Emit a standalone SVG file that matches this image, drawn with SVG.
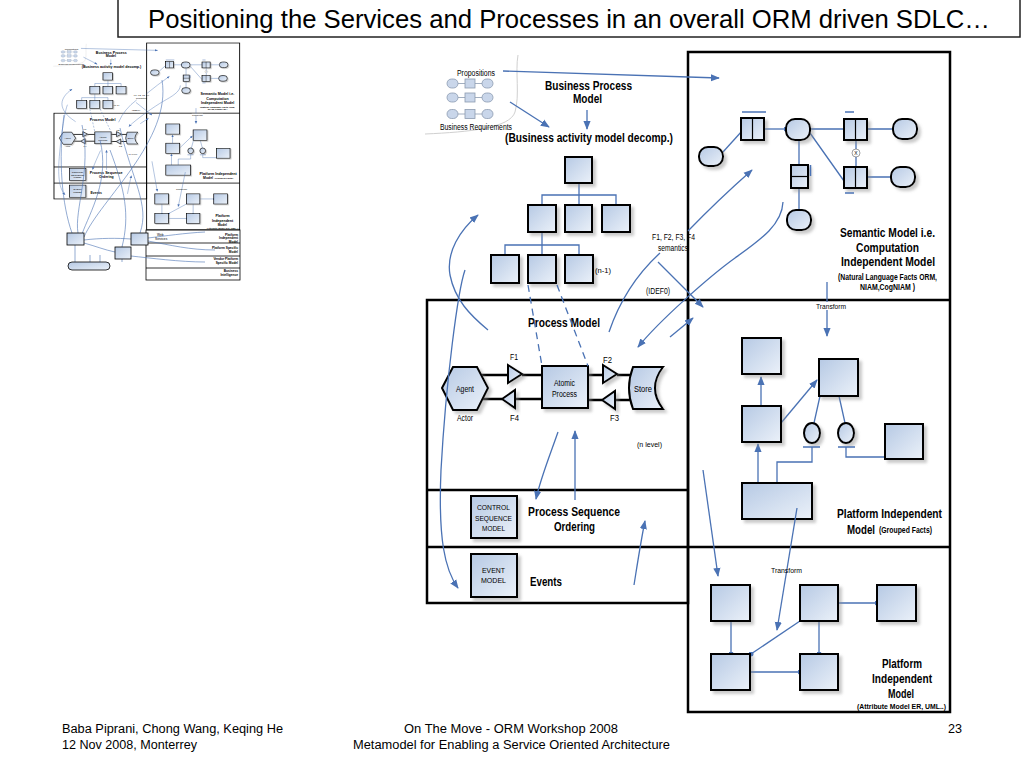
<svg xmlns="http://www.w3.org/2000/svg" xmlns:xlink="http://www.w3.org/1999/xlink" width="1024" height="768" viewBox="0 0 1024 768">
<defs>
<linearGradient id="g" x1="0" y1="0" x2="1" y2="1">
<stop offset="0" stop-color="#b6c9e4"/>
<stop offset="1" stop-color="#ebf1f9"/>
</linearGradient>
<filter id="sh" x="-30%" y="-30%" width="170%" height="170%">
<feDropShadow dx="3" dy="3" stdDeviation="1.5" flood-color="#8a8a8a" flood-opacity="0.45"/>
</filter>
<marker id="ah" viewBox="0 0 10 10" refX="9" refY="5" markerWidth="9" markerHeight="9" markerUnits="userSpaceOnUse" orient="auto">
<path d="M0,1 L10,5 L0,9 Z" fill="#4a72b4"/>
</marker>
<marker id="dot" viewBox="0 0 6 6" refX="3" refY="3" markerWidth="5" markerHeight="5" markerUnits="userSpaceOnUse">
<circle cx="3" cy="3" r="3" fill="#4a72b4"/>
</marker>
<style>
.t{font-family:"Liberation Sans Narrow","Liberation Sans",Arial,sans-serif;fill:#000}
.b{font-weight:bold}
.n{fill:url(#g);stroke:#000;stroke-width:2;filter:url(#sh)}
.p{fill:#c9d6ea;stroke:#8c9bb0;stroke-width:0.8}
.c{fill:none;stroke:#4a72b4;stroke-width:1.3}
.a{marker-end:url(#ah)}
.d{marker-end:url(#dot)}
.k{fill:none;stroke:#000;stroke-width:2.5}
.f{fill:none;stroke:#000;stroke-width:2.5}
.bar{stroke:#4a72b4;stroke-width:1.5}
.tf{fill:none;stroke:#000;stroke-width:0.8}
.tc{fill:none;stroke:#4a72b4;stroke-width:0.6}
.tn{fill:url(#g);stroke:#000;stroke-width:0.8}
</style>
</defs>
<rect width="1024" height="768" fill="#fff"/>

<g id="title">
<rect x="118" y="-1" width="902" height="38" fill="#fff" stroke="#222" stroke-width="1.5"/>
<text class="t" x="148" y="28" font-size="25" textLength="842" lengthAdjust="spacingAndGlyphs">Positioning the Services and Processes in an overall ORM driven SDLC…</text>
</g>

<g id="main">
<g id="frames">
<rect class="f" x="427" y="300" width="261" height="303"/>
<line class="f" x1="427" y1="490" x2="688" y2="490"/>
<line class="f" x1="427" y1="547" x2="688" y2="547"/>
<rect class="f" x="688" y="52" width="262" height="660"/>
<line class="f" x1="688" y1="300" x2="950" y2="300"/>
<line class="f" x1="688" y1="547" x2="950" y2="547"/>
</g>

<g id="propositions">
<path d="M425,134 C470,132 510,128 515,112 C520,95 515,72 518,55" fill="none" stroke="#d0d0d0" stroke-width="1"/>
<g stroke="#8c9bb0" stroke-width="0.8">
<line x1="458" y1="83.5" x2="482" y2="83.5"/>
<line x1="458" y1="97.5" x2="482" y2="97.5"/>
<line x1="458" y1="114" x2="482" y2="114"/>
</g>
<rect class="p" x="447" y="79" width="11" height="9" rx="4.5"/>
<rect class="p" x="465" y="79" width="10" height="9"/>
<rect class="p" x="482" y="79" width="11" height="9" rx="4.5"/>
<rect class="p" x="447" y="93" width="11" height="9" rx="4.5"/>
<rect class="p" x="465" y="93" width="10" height="9"/>
<rect class="p" x="482" y="93" width="11" height="9" rx="4.5"/>
<rect class="p" x="447" y="109.5" width="11" height="9" rx="4.5"/>
<rect class="p" x="465" y="109.5" width="10" height="9"/>
<rect class="p" x="482" y="109.5" width="11" height="9" rx="4.5"/>
<text class="t" x="457" y="76" font-size="8.5" textLength="38" lengthAdjust="spacingAndGlyphs">Propositions</text>
<text class="t" x="440" y="129.5" font-size="8.5" textLength="72" lengthAdjust="spacingAndGlyphs">Business Requirements</text>
</g>

<g id="bpm-labels">
<text class="t b" x="545" y="90" font-size="12.5" textLength="87" lengthAdjust="spacingAndGlyphs">Business Process</text>
<text class="t b" x="573" y="103" font-size="12.5" textLength="29" lengthAdjust="spacingAndGlyphs">Model</text>
<text class="t b" x="505" y="141.5" font-size="13" textLength="168" lengthAdjust="spacingAndGlyphs">(Business activity model decomp.)</text>
</g>

<g id="tree">
<g id="tree-links" class="c">
<path d="M579,183 V205 M542,205 V195 H616 V205 M542,232 V255 M505,255 V245 H579 V255"/>
</g>
<rect id="t0" class="n" x="565" y="157" width="27" height="26"/>
<rect id="t1" class="n" x="528" y="205" width="28" height="27"/>
<rect id="t2" class="n" x="565" y="205" width="27" height="27"/>
<rect id="t3" class="n" x="602" y="205" width="28" height="27"/>
<rect id="t4" class="n" x="491" y="255" width="28" height="28"/>
<rect id="t5" class="n" x="528" y="255" width="28" height="28"/>
<rect id="t6" class="n" x="565" y="255" width="28" height="28"/>
<text class="t" x="595" y="273" font-size="8" textLength="16" lengthAdjust="spacingAndGlyphs">(n-1)</text>
</g>

<g id="semantic">
<g id="sem-links" class="c">
<path d="M723,152 L742,131"/>
<path class="d" d="M764,129 L786,129"/>
<path d="M810,129 L844,129 M867,129 L893,129 M799,140 L799,165 M799,188 L799,210 M810,133 L844,181 M856,140 L856,167 M867,177 L891,177"/>
</g>
<rect id="e1" class="n" x="699" y="147" width="24" height="19" rx="9"/>
<g id="f1"><rect class="n" x="741" y="118" width="23" height="22"/><line x1="752.5" y1="118" x2="752.5" y2="140" stroke="#000" stroke-width="1.2"/><line class="bar" x1="742" y1="112" x2="766" y2="112"/></g>
<rect id="e2" class="n" x="786" y="119" width="24" height="21" rx="9"/>
<g id="f3"><rect class="n" x="844" y="119" width="23" height="21"/><line x1="855.5" y1="119" x2="855.5" y2="140" stroke="#000" stroke-width="1.2"/><line class="bar" x1="845" y1="112" x2="854" y2="112"/></g>
<rect id="e3" class="n" x="893" y="119" width="24" height="20" rx="9"/>
<g id="f4"><rect class="n" x="791" y="165" width="17" height="23"/><line x1="791" y1="176.5" x2="808" y2="176.5" stroke="#000" stroke-width="1.2"/><line class="bar" x1="810.5" y1="165" x2="810.5" y2="176"/></g>
<rect id="e4" class="n" x="787" y="210" width="24" height="20" rx="9"/>
<g id="f5"><rect class="n" x="844" y="167" width="23" height="21"/><line x1="855.5" y1="167" x2="855.5" y2="188" stroke="#000" stroke-width="1.2"/><line class="bar" x1="845" y1="193" x2="854" y2="193"/></g>
<rect id="e5" class="n" x="891" y="167" width="24" height="20" rx="9"/>
<g id="xcon"><circle cx="856" cy="153" r="4" fill="#fff" stroke="#777" stroke-width="0.7"/><text class="t" x="856" y="155" font-size="5" text-anchor="middle">X</text></g>
<g id="sem-label">
<text class="t b" x="840" y="237" font-size="12.5" textLength="95" lengthAdjust="spacingAndGlyphs">Semantic Model i.e.</text>
<text class="t b" x="856" y="252" font-size="12.5" textLength="63" lengthAdjust="spacingAndGlyphs">Computation</text>
<text class="t b" x="841" y="266" font-size="12.5" textLength="94" lengthAdjust="spacingAndGlyphs">Independent Model</text>
<text class="t b" x="838" y="280" font-size="8.5" textLength="99" lengthAdjust="spacingAndGlyphs">(Natural Language Facts ORM,</text>
<text class="t b" x="860" y="289.5" font-size="8.5" textLength="55" lengthAdjust="spacingAndGlyphs">NIAM,CogNIAM )</text>
</g>
</g>

<g id="process">
<g id="proc-lines" class="k">
<path d="M480,375 H508 M522,375 H542 M542,399 H515 M502,399 H483 M588,375 H603 M617,375 H633 M633,400 H615 M602,400 H588"/>
</g>
<polygon id="agent" class="n" points="442,388 453,367 477,367 488,388 477,410 453,410"/>
<polygon id="tF1" class="n" points="508,365 522,374 508,383"/>
<polygon id="tF4" class="n" points="502,399 515,390 515,408"/>
<rect id="atomic" class="n" x="542" y="366" width="46" height="42"/>
<polygon id="tF2" class="n" points="603,365 617,374 603,383"/>
<polygon id="tF3" class="n" points="602,400 615,391 615,409"/>
<path id="store" class="n" d="M633,367 H663 Q647,388 663,409 H633 Q625,388 633,367 Z"/>
<text class="t b" x="528" y="327" font-size="13" textLength="72" lengthAdjust="spacingAndGlyphs">Process Model</text>
<text class="t" x="456" y="392" font-size="8.5" textLength="18" lengthAdjust="spacingAndGlyphs">Agent</text>
<text class="t" x="457" y="421" font-size="8.5" textLength="16" lengthAdjust="spacingAndGlyphs">Actor</text>
<text class="t" x="510" y="360" font-size="8.5" textLength="8" lengthAdjust="spacingAndGlyphs">F1</text>
<text class="t" x="510" y="420.5" font-size="8.5" textLength="9" lengthAdjust="spacingAndGlyphs">F4</text>
<text class="t" x="603" y="363" font-size="8.5" textLength="9" lengthAdjust="spacingAndGlyphs">F2</text>
<text class="t" x="610" y="421" font-size="8.5" textLength="9" lengthAdjust="spacingAndGlyphs">F3</text>
<text class="t" x="554" y="386" font-size="8.5" textLength="21" lengthAdjust="spacingAndGlyphs">Atomic</text>
<text class="t" x="552" y="396.5" font-size="8.5" textLength="25" lengthAdjust="spacingAndGlyphs">Process</text>
<text class="t" x="634" y="392" font-size="8.5" textLength="18" lengthAdjust="spacingAndGlyphs">Store</text>
<text class="t" x="637" y="447" font-size="8" textLength="25" lengthAdjust="spacingAndGlyphs">(n level)</text>
</g>

<g id="control">
<rect class="n" x="471" y="496" width="46" height="42"/>
<text class="t" x="477" y="510" font-size="7.5" textLength="33" lengthAdjust="spacingAndGlyphs">CONTROL</text>
<text class="t" x="475" y="520.5" font-size="7.5" textLength="37" lengthAdjust="spacingAndGlyphs">SEQUENCE</text>
<text class="t" x="482" y="530.5" font-size="7.5" textLength="23" lengthAdjust="spacingAndGlyphs">MODEL</text>
<text class="t b" x="528" y="516" font-size="12.5" textLength="92" lengthAdjust="spacingAndGlyphs">Process Sequence</text>
<text class="t b" x="554" y="530.5" font-size="12.5" textLength="41" lengthAdjust="spacingAndGlyphs">Ordering</text>
</g>

<g id="event">
<rect class="n" x="471" y="554" width="46" height="43"/>
<text class="t" x="482" y="573" font-size="7.5" textLength="23" lengthAdjust="spacingAndGlyphs">EVENT</text>
<text class="t" x="481" y="583" font-size="7.5" textLength="25" lengthAdjust="spacingAndGlyphs">MODEL</text>
<text class="t b" x="530" y="586" font-size="12.5" textLength="32" lengthAdjust="spacingAndGlyphs">Events</text>
</g>

<g id="pim1">
<g id="pim1-links" class="c">
<path class="a" d="M761,406 L761,377"/>
<path class="a" d="M781,423 L817,380"/>
<path class="a" d="M758,483 L758,444"/>
<path d="M820,396 L814,423 M839,396 L845,423 M812,447 V462 H777 V483 M846,447 V457 H885"/>
</g>
<rect id="pA" class="n" x="742" y="338" width="39" height="36"/>
<rect id="pB" class="n" x="819" y="359" width="39" height="37"/>
<rect id="pC" class="n" x="742" y="406" width="39" height="36"/>
<g id="pV1"><ellipse class="n" cx="812" cy="433" rx="8" ry="10"/><line class="bar" x1="803" y1="447" x2="820" y2="447"/></g>
<g id="pV2"><ellipse class="n" cx="846" cy="433" rx="8" ry="10"/><line class="bar" x1="838" y1="447" x2="855" y2="447"/></g>
<rect id="pD" class="n" x="885" y="424" width="38" height="35"/>
<rect id="pE" class="n" x="742" y="483" width="70" height="36"/>
<text class="t b" x="837" y="518" font-size="12.5" textLength="105" lengthAdjust="spacingAndGlyphs">Platform Independent</text>
<text class="t b" x="847" y="533.5" font-size="12.5" textLength="28" lengthAdjust="spacingAndGlyphs">Model</text>
<text class="t b" x="879" y="533" font-size="8.5" textLength="53" lengthAdjust="spacingAndGlyphs">(Grouped Facts)</text>
</g>

<g id="pim2">
<g id="pim2-links" class="c">
<path class="d" d="M731,621 V654"/>
<path class="d" d="M800,621 L751,654"/>
<path class="d" d="M819,621 V654"/>
<path class="d" d="M838,603 H877"/>
<path class="d" d="M750,672 H800"/>
</g>
<rect id="q1" class="n" x="711" y="585" width="39" height="36"/>
<rect id="q2" class="n" x="800" y="585" width="38" height="36"/>
<rect id="q3" class="n" x="877" y="585" width="39" height="36"/>
<rect id="q4" class="n" x="711" y="654" width="39" height="36"/>
<rect id="q5" class="n" x="800" y="654" width="38" height="36"/>
<text class="t b" x="882" y="668" font-size="12.5" textLength="40" lengthAdjust="spacingAndGlyphs">Platform</text>
<text class="t b" x="872" y="683" font-size="12.5" textLength="60" lengthAdjust="spacingAndGlyphs">Independent</text>
<text class="t b" x="888" y="698" font-size="12.5" textLength="26" lengthAdjust="spacingAndGlyphs">Model</text>
<text class="t b" x="857" y="709" font-size="8" textLength="89" lengthAdjust="spacingAndGlyphs">(Attribute Model ER, UML..)</text>
</g>

<g id="connectors">
<path class="c a" d="M503,71 L719,78"/>
<path class="c a" d="M510,102 L549,127"/>
<path class="c a" d="M587,110 L587,129"/>
<path class="c" stroke-dasharray="7,5" d="M528,285 L542,366"/>
<path class="c" stroke-dasharray="7,5" d="M557,285 L588,366"/>
<path class="c a" d="M688,231 Q718,200 752,170"/>
<path class="c a" d="M783,202 C782,225 760,240 735,258 C710,276 660,320 638,347"/>
<path class="c a" d="M658,262 L703,307"/>
<path class="c" d="M660,253 Q625,285 609,332"/>
<path class="c a" d="M670,337 L693,318"/>
<path class="c a" d="M827,282 L827,336"/>
<path class="c a" d="M488,330 C470,315 455,300 450,275 C446,252 460,230 478,215"/>
<path class="c a" d="M465,270 C458,290 446,380 441,470 C438,540 445,570 458,588"/>
<path class="c a" d="M558,432 C550,455 540,480 536,499"/>
<path class="c a" d="M575,500 L575,431"/>
<path class="c a" d="M634,585 C638,560 641,540 645,521"/>
<path class="c a" d="M703,470 L718,576"/>
<path class="c a" d="M797,508 L777,630"/>
</g>

<g id="conn-labels">
<text class="t" x="652" y="240" font-size="8.5" textLength="43" lengthAdjust="spacingAndGlyphs">F1, F2, F3, F4</text>
<text class="t" x="658" y="250.5" font-size="8.5" textLength="30" lengthAdjust="spacingAndGlyphs">semantics</text>
<text class="t" x="646" y="294" font-size="8.5" textLength="24" lengthAdjust="spacingAndGlyphs">(IDEF0)</text>
<rect x="815" y="302" width="32" height="8" fill="#fff"/>
<text class="t" x="816" y="309" font-size="8" textLength="30" lengthAdjust="spacingAndGlyphs">Transform</text>
<text class="t" x="771" y="573" font-size="8" textLength="31" lengthAdjust="spacingAndGlyphs">Transform</text>
</g>
</g>

<g id="thumbnail">
<use xlink:href="#main" href="#main" transform="translate(-97.6,28.3) scale(0.355,0.283)"/>
<g id="thumb-frames">
<rect class="tf" x="146" y="230" width="94" height="50"/>
<line class="tf" x1="146" y1="243" x2="240" y2="243"/>
<line class="tf" x1="146" y1="256" x2="240" y2="256"/>
<line class="tf" x1="146" y1="268" x2="240" y2="268"/>
</g>
<g id="thumb-links">
<path class="tc" d="M64,115 C58,160 62,205 72,233"/>
<path class="tc" d="M82,125 C92,170 74,210 78,233"/>
<path class="tc" d="M100,140 C110,180 90,212 82,234"/>
<path class="tc" d="M120,128 C132,180 150,205 140,233"/>
<path class="tc" d="M162,80 C172,140 100,200 84,237"/>
<path class="tc" d="M110,150 C125,190 130,215 122,247"/>
<path class="tc" d="M205,232 C185,233 165,236 148,238"/>
<path class="tc" d="M84,240 C100,238 118,238 131,239"/>
<path class="tc" d="M84,243 C95,246 105,250 115,252"/>
<path class="tc" d="M148,241 C170,245 190,250 215,250"/>
<path class="tc" d="M131,256 C150,258 180,262 205,262"/>
<path class="tc" d="M75,245 V262 M122,259 V262 M90,262 V255 M100,262 V255"/>
</g>
<rect id="th1" class="tn" x="67" y="233" width="17" height="12"/>
<rect id="th2" class="tn" x="131" y="233" width="17" height="12"/>
<rect id="th3" class="tn" x="115" y="247" width="16" height="12"/>
<rect id="th4" class="tn" x="68" y="262" width="42" height="8" rx="4"/>
<g id="thumb-labels" font-size="3.2">
<text class="t" x="157" y="236">Web</text>
<text class="t" x="155" y="240">Services</text>
<text class="t b" x="238" y="235.5" text-anchor="end">Platform</text>
<text class="t b" x="238" y="239" text-anchor="end">Independent</text>
<text class="t b" x="238" y="242.5" text-anchor="end">Model</text>
<text class="t b" x="238" y="248.5" text-anchor="end">Platform Specific</text>
<text class="t b" x="238" y="252.5" text-anchor="end">Model</text>
<text class="t b" x="238" y="260" text-anchor="end">Vendor Platform</text>
<text class="t b" x="238" y="264" text-anchor="end">Specific Model</text>
<text class="t b" x="238" y="272" text-anchor="end">Business</text>
<text class="t b" x="238" y="276" text-anchor="end">Intelligence</text>
</g>
</g>

<g id="footer">
<text class="t" x="62" y="733" font-size="12.5" textLength="221" lengthAdjust="spacingAndGlyphs">Baba Piprani, Chong Wang, Keqing He</text>
<text class="t" x="62" y="749" font-size="12.5" textLength="135" lengthAdjust="spacingAndGlyphs">12 Nov 2008, Monterrey</text>
<text class="t" x="404" y="733" font-size="12.5" textLength="214" lengthAdjust="spacingAndGlyphs">On The Move - ORM Workshop 2008</text>
<text class="t" x="353" y="749" font-size="12.5" textLength="317" lengthAdjust="spacingAndGlyphs">Metamodel for Enabling a Service Oriented Architecture</text>
<text class="t" x="948" y="733" font-size="12.5" textLength="14" lengthAdjust="spacingAndGlyphs">23</text>
</g>
</svg>
